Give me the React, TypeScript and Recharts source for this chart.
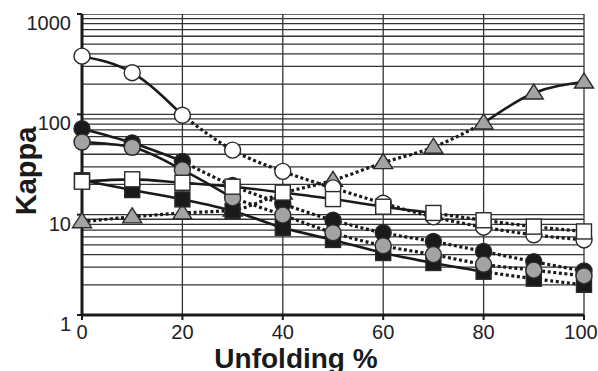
import { LineChart, Line, XAxis, YAxis, CartesianGrid, ReferenceLine } from "recharts";

// unfolding % on the x axis
const unfolding = [0, 10, 20, 30, 40, 50, 60, 70, 80, 90, 100];

// kappa values, one array per marker style
const openCircle = [380, 260, 98, 44, 27, 18.5, 13, 9.5, 7.5, 6.3, 5.6];
const openSquare = [21.3, 22.5, 20.8, 19, 16.6, 14.3, 12.0, 10.4, 8.8, 7.6, 6.8];
const grayTriangle = [8.5, 9.5, 10.4, 11.1, 16.4, 22, 33, 47, 82, 163, 210];
const blackCircle = [72, 52, 34, 19.5, 12.8, 8.8, 6.6, 5.4, 4.3, 3.4, 2.75];
const grayCircle = [53, 47, 28, 14.7, 9.9, 6.6, 4.9, 4.0, 3.2, 2.8, 2.45];
const blackSquare = [22, 17.6, 14.2, 10.9, 7.4, 5.6, 4.15, 3.3, 2.7, 2.3, 2.0];

// which point indices get the solid line, and which the dotted one
const solidSpan: Record<string, [number, number]> = {
  oc: [0, 2], tr: [8, 10], bc: [0, 2], gc: [0, 3], os: [0, 7], bs: [0, 8],
};
const dottedSpan: Record<string, [number, number]> = {
  oc: [2, 10], tr: [0, 8], bc: [2, 10], gc: [3, 10], os: [7, 10], bs: [8, 10],
};

const yTicks = [1, 10, 100, 1000];
const xTicks = [0, 20, 40, 60, 80, 100];
const gridY = [
  2, 3, 4, 5, 6, 7, 8, 9,
  10, 20, 30, 40, 50, 60, 70, 80, 90,
  100, 200, 300, 400, 500, 600, 700, 800, 900, 1000,
];

const series: Record<string, number[]> = {
  oc: openCircle, os: openSquare, tr: grayTriangle,
  bc: blackCircle, gc: grayCircle, bs: blackSquare,
};

const inSpan = (i: number, s: [number, number]) => i >= s[0] && i <= s[1];

const rows = unfolding.map((x, i) => {
  const r: Record<string, number | null> = { x };
  for (const k of Object.keys(series)) {
    const v = series[k][i];
    r[k] = v;
    r[k + "_s"] = inSpan(i, solidSpan[k]) ? v : null;
    r[k + "_d"] = inSpan(i, dottedSpan[k]) ? v : null;
  }
  return r;
});

const FONT = '"Liberation Sans", Arial, sans-serif';
const INK = "#1a1a1a";
const EDGE = "#2a2a2a";
const GRAY = "#a3a3a3";

const circleDot = (fill: string) => (p: any) =>
  p.cy == null ? <g key={p.index} /> : (
    <circle key={p.index} cx={p.cx} cy={p.cy} r={8} fill={fill} stroke={EDGE} strokeWidth={1.4} />
  );

const squareDot = (fill: string) => (p: any) =>
  p.cy == null ? <g key={p.index} /> : (
    <rect key={p.index} x={p.cx - 7.5} y={p.cy - 7.5} width={15} height={15} fill={fill} stroke={EDGE} strokeWidth={1.4} />
  );

const triangleDot = (p: any) =>
  p.cy == null ? <g key={p.index} /> : (
    <polygon
      key={p.index}
      points={`${p.cx},${p.cy - 9} ${p.cx + 9.5},${p.cy + 6} ${p.cx - 9.5},${p.cy + 6}`}
      fill={GRAY}
      stroke={EDGE}
      strokeWidth={1.4}
    />
  );

const YTick = ({ x, y, payload }: any) => (
  <text x={x} y={y} dy={16} textAnchor="end" fontFamily={FONT} fontSize={20} fill="#222">
    {payload.value}
  </text>
);

// the last label sits against the right edge, nudge it in a little
const XTick = ({ x, y, payload }: any) => (
  <text
    x={payload.value === 100 ? x - 3 : x}
    y={y}
    dy={19}
    textAnchor="middle"
    fontFamily={FONT}
    fontSize={20}
    fill="#222"
  >
    {payload.value}
  </text>
);

const order = ["tr", "oc", "bc", "bs", "gc", "os"];
const markers: Record<string, (p: any) => any> = {
  tr: triangleDot,
  oc: circleDot("#ffffff"),
  bc: circleDot(INK),
  bs: squareDot(INK),
  gc: circleDot(GRAY),
  os: squareDot("#ffffff"),
};

export default function App() {
  return (
    <div style={{ position: "absolute", left: 0, top: 0, width: 598, height: 371, background: "#fff" }}>
      <LineChart width={598} height={371} data={rows} margin={{ top: 14, right: 14, bottom: 26, left: 0 }}>
        <CartesianGrid horizontal={false} stroke="#333" strokeWidth={1.3} />
        {gridY.map((v) => (
          <ReferenceLine key={v} y={v} stroke="#333" strokeWidth={1.3} ifOverflow="hidden" />
        ))}
        <XAxis
          dataKey="x"
          type="number"
          domain={[0, 100]}
          ticks={xTicks}
          height={30}
          tickSize={5}
          tickMargin={0}
          tick={<XTick />}
          axisLine={{ stroke: INK, strokeWidth: 3 }}
          tickLine={{ stroke: INK, strokeWidth: 2 }}
        />
        <YAxis
          type="number"
          scale="log"
          domain={[1, 1000]}
          ticks={yTicks}
          allowDataOverflow
          width={82}
          tickSize={5}
          tickMargin={6}
          tick={<YTick />}
          axisLine={{ stroke: INK, strokeWidth: 3 }}
          tickLine={{ stroke: INK, strokeWidth: 2 }}
        />
        {order.map((k) => (
          <Line
            key={k + "_s"}
            dataKey={k + "_s"}
            type="monotone"
            stroke={INK}
            strokeWidth={2.6}
            dot={false}
            activeDot={false}
            isAnimationActive={false}
          />
        ))}
        {order.map((k) => (
          <Line
            key={k + "_d"}
            dataKey={k + "_d"}
            type="monotone"
            stroke={INK}
            strokeWidth={3.2}
            strokeDasharray="3 2.6"
            dot={false}
            activeDot={false}
            isAnimationActive={false}
          />
        ))}
        {order.map((k) => (
          <Line
            key={k}
            dataKey={k}
            stroke="none"
            dot={markers[k]}
            activeDot={false}
            isAnimationActive={false}
          />
        ))}
        <text
          x={36}
          y={171}
          transform="rotate(-90, 36, 171)"
          textAnchor="middle"
          fontFamily={FONT}
          fontSize={29}
          fontWeight="bold"
          fill={INK}
        >
          Kappa
        </text>
        <text x={296} y={368} textAnchor="middle" fontFamily={FONT} fontSize={28} fontWeight="bold" fill={INK}>
          Unfolding %
        </text>
      </LineChart>
    </div>
  );
}
